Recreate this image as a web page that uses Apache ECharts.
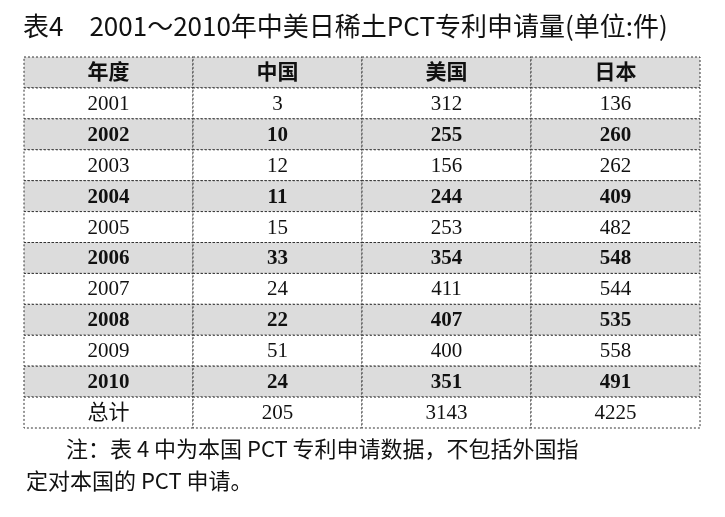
<!DOCTYPE html>
<html><head><meta charset="utf-8">
<script src="https://cdn.jsdelivr.net/npm/echarts@6/dist/echarts.min.js"></script>
<style>html,body{margin:0;background:#fff}#c{width:725px;height:517px}</style>
</head><body><div id="c"></div>
<script>
const headers = ['年度','中国','美国','日本'];
const years = ['2001','2002','2003','2004','2005','2006','2007','2008','2009','2010','总计'];
const china = [3,10,12,11,15,33,24,22,51,24,205];
const usa = [312,255,156,244,253,354,411,407,400,351,3143];
const japan = [136,260,262,409,482,548,544,535,558,491,4225];
const shadedRows = [0,2,4,6,8,10];

const rows = [headers].concat(years.map((y,i)=>[y,String(china[i]),String(usa[i]),String(japan[i])]));
const data = [];
rows.forEach((r,ri)=>r.forEach((t,ci)=>data.push([ci,ri,t])));

const chart = echarts.init(document.getElementById('c'));
chart.setOption({
  animation:false,
  title:{text:'表4　2001～2010年中美日稀土PCT专利申请量(单位:件)',left:18,top:8,
    textStyle:{fontFamily:'Noto Sans CJK SC',fontWeight:'normal',fontSize:26,color:'#111'}},
  grid:{left:24,right:25,top:57,bottom:89},
  xAxis:{type:'category',data:[0,1,2,3],show:false},
  yAxis:{type:'category',data:rows.map((r,i)=>i),inverse:true,show:false},
  series:[{type:'custom',data:data,
    renderItem:(params,api)=>{
      const c=api.value(0), r=api.value(1);
      const p=api.coord([c,r]); const s=api.size([1,1]);
      const shaded=shadedRows.includes(r);
      const txt=rows[r][c];
      return {type:'group',children:[
        {type:'rect',shape:{x:p[0]-s[0]/2,y:p[1]-s[1]/2,width:s[0],height:s[1]},
         style:{fill:shaded?'#dcdcdc':'#fff',stroke:'#333',lineWidth:1,lineDash:[2,2]}},
        {type:'text',style:{text:txt,x:p[0],y:p[1]+1,align:'center',verticalAlign:'middle',
         font:(shaded?'bold ':'')+'21px "Liberation Serif","Noto Sans CJK SC",serif',fill:'#111'}}
      ]};
    }}],
  graphic:[
    {type:'text',left:66,top:438,style:{text:'注：表 4 中为本国 PCT 专利申请数据，不包括外国指',font:'22px "Noto Sans CJK SC"',fill:'#111'}},
    {type:'text',left:26,top:470,style:{text:'定对本国的 PCT 申请。',font:'22px "Noto Sans CJK SC"',fill:'#111'}}
  ]
});
</script></body></html>
